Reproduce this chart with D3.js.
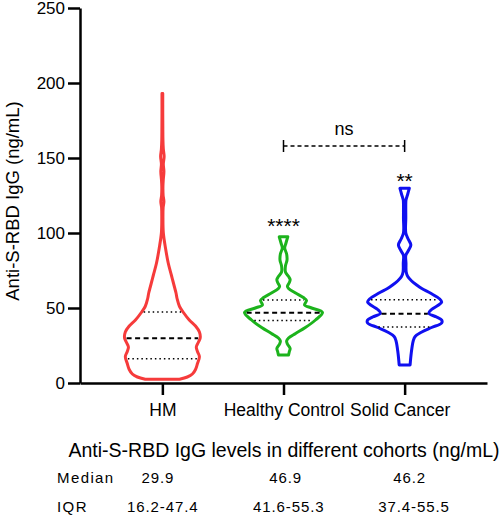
<!DOCTYPE html>
<html>
<head>
<meta charset="utf-8">
<script src="https://cdn.jsdelivr.net/npm/d3@7"></script>
<style>
  html, body { margin: 0; padding: 0; background: #fff; }
  text { font-family: "Liberation Sans", Arial, sans-serif; }
</style>
</head>
<body>
<svg id="chart" width="500" height="516"></svg>
<script>
// ---- data ----
const categories = ["HM", "Healthy Control", "Solid Cancer"];
const colors = ["#f63b3b", "#1cb31c", "#1010f0"];
const yTicks = [0, 50, 100, 150, 200, 250];

// density profiles (relative half-width)
const hmValues  = [2.5, 4, 6, 9, 13, 17.5, 21, 24, 27, 30, 34, 38, 42, 47, 51, 56, 60, 64, 68, 72, 80, 90, 100, 110, 117, 121, 125, 131, 136, 141, 146, 151, 156, 162, 170, 180, 193];
const hmDensity = [0.44, 0.64, 0.77, 0.85, 0.90, 0.95, 0.90, 0.87, 0.92, 0.97, 0.95, 0.85, 0.69, 0.54, 0.44, 0.38, 0.35, 0.31, 0.27, 0.23, 0.15, 0.08, 0.025, 0.015, 0.02, 0.04, 0.02, 0.015, 0.025, 0.04, 0.025, 0.045, 0.025, 0.015, 0.012, 0.01, 0.01];

const hcValues  = [18.7, 21, 23, 26, 28, 30, 33, 37, 42, 47, 50, 52, 55, 57, 60, 63, 64.5, 67, 69, 71, 74, 78, 82, 86, 90, 93, 97.5];
const hcDensity = [0.13, 0.15, 0.17, 0.10, 0.08, 0.13, 0.31, 0.56, 0.82, 1.00, 0.72, 0.54, 0.59, 0.51, 0.31, 0.13, 0.10, 0.15, 0.17, 0.13, 0.05, 0.05, 0.09, 0.08, 0.03, 0.06, 0.11];

const scValues  = [12, 20, 28, 31, 34, 37, 40, 42, 44, 46.5, 49, 52, 54, 56, 59.8, 63, 65.3, 68, 71, 74, 80, 85, 88, 92, 96, 100, 110, 120, 122, 126, 129.8];
const scDensity = [0.14, 0.17, 0.22, 0.27, 0.44, 0.69, 0.95, 0.95, 0.82, 0.62, 0.69, 0.87, 0.95, 0.90, 0.67, 0.44, 0.31, 0.18, 0.08, 0.04, 0.035, 0.03, 0.09, 0.16, 0.09, 0.03, 0.03, 0.03, 0.035, 0.08, 0.12];

const medians = [29.9, 46.9, 46.2];
const q1s = [16.2, 41.6, 37.4];
const q3s = [47.4, 55.3, 55.5];
const medianLabels = ["29.9", "46.9", "46.2"];
const iqrLabels = ["16.2-47.4", "41.6-55.3", "37.4-55.5"];
const sigLabels = ["", "****", "**"];
const sigValues = [0, 100, 130];
const bracketValue = 158;
const bracketLabel = "ns";

const profiles = [
  hmValues.map((v, i) => ({v, d: hmDensity[i]})),
  hcValues.map((v, i) => ({v, d: hcDensity[i]})),
  scValues.map((v, i) => ({v, d: scDensity[i]}))
];

// ---- layout ----
const svg = d3.select("#chart");
const x = d3.scalePoint().domain(categories).range([80, 487]).padding(0.68);
const y = d3.scaleLinear().domain([0, 250]).range([383, 8]);
const w = d3.scaleLinear().domain([0, 1]).range([0, 39]);

// violins
const area = d3.area()
  .y(d => y(d.v))
  .curve(d3.curveCatmullRom.alpha(0.5));

function halfWidthAt(prof, v) {
  for (let i = 0; i < prof.length - 1; i++) {
    if (v >= prof[i].v && v <= prof[i + 1].v) {
      const t = (v - prof[i].v) / (prof[i + 1].v - prof[i].v);
      return w(prof[i].d + t * (prof[i + 1].d - prof[i].d));
    }
  }
  return 0;
}

categories.forEach((c, i) => {
  const cx = x(c);
  const prof = profiles[i];
  svg.append("path")
    .datum(prof)
    .attr("d", area.x0(d => cx - w(d.d)).x1(d => cx + w(d.d)))
    .attr("fill", "none")
    .attr("stroke", colors[i])
    .attr("stroke-width", 3)
    .attr("stroke-linejoin", "round");

  const lines = [
    {v: q1s[i], dash: "1.5,3", sw: 1.5},
    {v: medians[i], dash: "5,3.5", sw: 2},
    {v: q3s[i], dash: "1.5,3", sw: 1.5}
  ];
  lines.forEach(l => {
    const hw = halfWidthAt(prof, l.v) - 2;
    svg.append("line")
      .attr("x1", cx - hw).attr("x2", cx + hw)
      .attr("y1", y(l.v)).attr("y2", y(l.v))
      .attr("stroke", "#000")
      .attr("stroke-width", l.sw)
      .attr("stroke-dasharray", l.dash);
  });

  if (sigLabels[i]) {
    svg.append("text")
      .attr("x", cx).attr("y", y(sigValues[i]))
      .attr("text-anchor", "middle")
      .attr("font-size", 21)
      .text(sigLabels[i]);
  }
});

// bracket
const bx1 = x(categories[1]), bx2 = x(categories[2]);
svg.append("line")
  .attr("x1", bx1).attr("x2", bx2)
  .attr("y1", y(bracketValue)).attr("y2", y(bracketValue))
  .attr("stroke", "#000").attr("stroke-width", 1.3)
  .attr("stroke-dasharray", "4,3");
[bx1, bx2].forEach(bx => {
  svg.append("line")
    .attr("x1", bx).attr("x2", bx)
    .attr("y1", y(bracketValue) - 6).attr("y2", y(bracketValue) + 6)
    .attr("stroke", "#000").attr("stroke-width", 1.5);
});
svg.append("text")
  .attr("x", (bx1 + bx2) / 2).attr("y", y(bracketValue) - 11)
  .attr("text-anchor", "middle")
  .attr("font-size", 18)
  .text(bracketLabel);

// axes
const yAxis = svg.append("g")
  .attr("transform", "translate(80,0)")
  .call(d3.axisLeft(y).tickValues(yTicks).tickSize(12).tickSizeOuter(0).tickPadding(3));
const xAxis = svg.append("g")
  .attr("transform", "translate(0,383)")
  .call(d3.axisBottom(x).tickSize(12).tickSizeOuter(0).tickPadding(9));
[yAxis, xAxis].forEach(g => {
  g.select(".domain").attr("stroke", "#000").attr("stroke-width", 2.5);
  g.selectAll(".tick line").attr("stroke", "#000").attr("stroke-width", 2.5);
  g.selectAll(".tick text").attr("font-size", 17).attr("fill", "#000")
    .attr("font-family", "'Liberation Sans', Arial, sans-serif");
});
xAxis.selectAll(".tick text").attr("font-size", 17.5).attr("dx", (d, i) => i === 2 ? -5 : 0);

// y label
svg.append("text")
  .attr("transform", "translate(18.5,201) rotate(-90)")
  .attr("text-anchor", "middle")
  .attr("font-size", 18.5)
  .text("Anti-S-RBD IgG (ng/mL)");

// table
svg.append("text")
  .attr("x", 284).attr("y", 457)
  .attr("text-anchor", "middle")
  .attr("font-size", 19.5)
  .text("Anti-S-RBD IgG levels in different cohorts (ng/mL)");

const rows = [
  {label: "Median", vals: medianLabels, xs: [141.5, 269.3, 393.3], y: 483},
  {label: "IQR", vals: iqrLabels, xs: [127, 253, 378.3], y: 512}
];
rows.forEach(r => {
  svg.append("text")
    .attr("x", 57).attr("y", r.y)
    .attr("font-size", 15)
    .attr("letter-spacing", 1.4)
    .text(r.label);
  r.vals.forEach((t, i) => {
    svg.append("text")
      .attr("x", r.xs[i]).attr("y", r.y)
      .attr("font-size", 15)
      .attr("letter-spacing", 0.9)
      .text(t);
  });
});
</script>
</body>
</html>
